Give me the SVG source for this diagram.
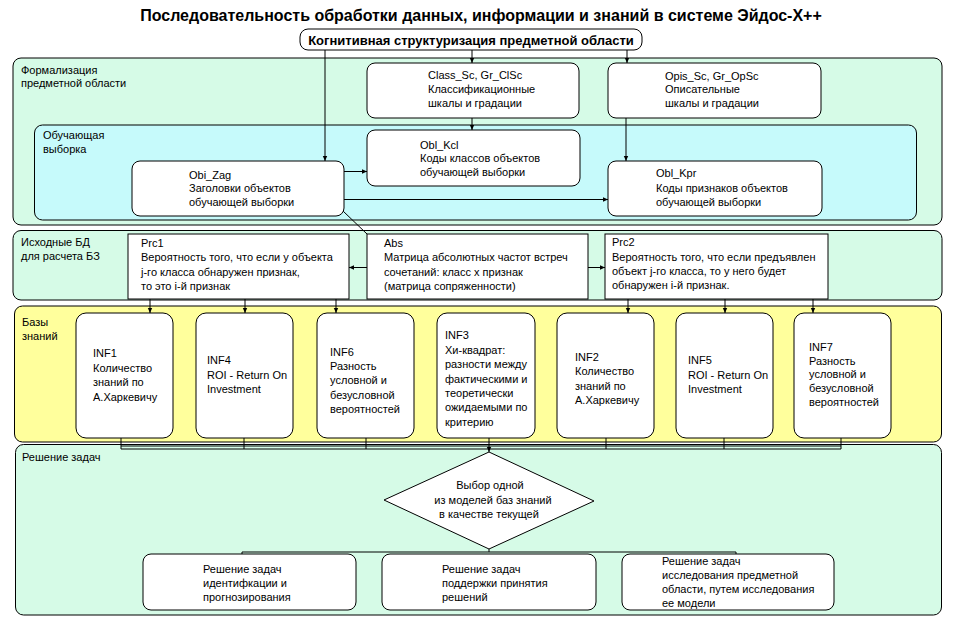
<svg xmlns="http://www.w3.org/2000/svg" width="958" height="619" viewBox="0 0 958 619">
<defs>
<marker id="arr" markerWidth="6" markerHeight="6" refX="5" refY="2.5" orient="auto" markerUnits="userSpaceOnUse">
<path d="M0,0.3 L5,2.5 L0,4.7 Z" fill="#000"/>
</marker>
</defs>
<style>
text{font-family:"Liberation Sans",Arial,sans-serif;font-size:11px;fill:#000}
.title{font-size:16px;font-weight:bold}
.cog{font-size:13px;font-weight:bold}
.sec{stroke:#000;stroke-width:1}
.mint{fill:#d6fbe7}
.cyan{fill:#c6fafb}
.yel{fill:#ffff9c}
.box{fill:#fff;stroke:#000;stroke-width:1}
.ln{fill:none;stroke:#000;stroke-width:1}
.ar{fill:none;stroke:#000;stroke-width:1;marker-end:url(#arr)}
.c{text-anchor:middle}
</style>
<rect width="958" height="619" fill="#fff"/>
<text class="title c" x="481" y="21">Последовательность обработки данных, информации и знаний в системе Эйдос-Х++</text>

<g id="sec-formal">
<rect class="sec mint" x="13" y="58" width="929" height="167" rx="8"/>
<text x="21" y="74">Формализация</text>
<text x="21" y="87">предметной области</text>
</g>
<g id="sec-train">
<rect class="sec cyan" x="34.5" y="125" width="882" height="95" rx="8"/>
<text x="43" y="139">Обучающая</text>
<text x="43" y="153">выборка</text>
</g>
<g id="sec-src">
<rect class="sec mint" x="13" y="230.5" width="929" height="69.5" rx="8"/>
<text x="21" y="246">Исходные БД</text>
<text x="21" y="260">для расчета БЗ</text>
</g>
<g id="sec-kb">
<rect class="sec yel" x="14.5" y="306" width="927" height="136" rx="8"/>
<text x="22" y="326">Базы</text>
<text x="22" y="340">знаний</text>
</g>
<g id="sec-solve">
<rect class="sec mint" x="15.5" y="444.5" width="926" height="170.5" rx="8"/>
<text x="22" y="461">Решение задач</text>
</g>

<g id="connectors">
<path class="ar" d="M325,50 V161"/>
<path class="ar" d="M472,50 V63"/>
<path class="ar" d="M627,50 V63"/>
<path class="ar" d="M472,118 V130"/>
<path class="ar" d="M626,118 V161"/>
<path class="ar" d="M344,171.5 H367"/>
<path class="ar" d="M344,199.5 H608"/>
<path class="ln" d="M343,211 L367,234"/>
<path class="ar" d="M367,267.5 H349"/>
<path class="ar" d="M588,267.5 H605"/>
<path class="ar" d="M150,299 V313"/>
<path class="ar" d="M245,299 V313"/>
<path class="ar" d="M336,299 V313"/>
<path class="ar" d="M628,299 V313"/>
<path class="ar" d="M725,299 V313"/>
<path class="ar" d="M813,299 V313"/>
<path class="ln" d="M121,438 V449 M244,438 V449 M366,438 V449 M489,438 V449 M606,438 V449 M724,438 V449 M841,438 V449"/>
<path class="ln" d="M121,446 H841 M121,449 H841"/>
<path class="ar" d="M489,449 V452"/>
<path class="ln" d="M489,549 V552 M242,554 V552 H736 V554"/>
</g>

<g id="n-cog">
<rect class="box" x="300" y="29" width="342" height="21" rx="8"/>
<text class="cog c" x="471" y="45">Когнитивная структуризация предметной области</text>
</g>
<g id="n-class">
<rect class="box" x="367" y="63" width="212" height="55" rx="8"/>
<text x="428" y="79">Class_Sc, Gr_ClSc</text>
<text x="428" y="93">Классификационные</text>
<text x="428" y="107">шкалы и градации</text>
</g>
<g id="n-opis">
<rect class="box" x="608" y="63" width="213" height="55" rx="8"/>
<text x="665" y="80">Opis_Sc, Gr_OpSc</text>
<text x="665" y="93">Описательные</text>
<text x="665" y="107">шкалы и градации</text>
</g>
<g id="n-kcl">
<rect class="box" x="367" y="130" width="213" height="56" rx="8"/>
<text x="420" y="149">Obl_Kcl</text>
<text x="420" y="162">Коды классов объектов</text>
<text x="420" y="176">обучающей выборки</text>
</g>
<g id="n-zag">
<rect class="box" x="132" y="161" width="212" height="55" rx="8"/>
<text x="189" y="179">Obi_Zag</text>
<text x="189" y="192">Заголовки объектов</text>
<text x="189" y="206">обучающей выборки</text>
</g>
<g id="n-kpr">
<rect class="box" x="608" y="161" width="214" height="55" rx="8"/>
<text x="656" y="177">Obl_Kpr</text>
<text x="656" y="192">Коды признаков объектов</text>
<text x="656" y="206">обучающей выборки</text>
</g>

<g id="n-prc1">
<rect class="box" x="128" y="234" width="221" height="65"/>
<text x="141" y="247">Prc1</text>
<text x="141" y="261">Вероятность того, что если у объекта</text>
<text x="141" y="276">j-го класса обнаружен признак,</text>
<text x="141" y="290">то это i-й признак</text>
</g>
<g id="n-abs">
<rect class="box" x="367" y="234" width="221" height="65"/>
<text x="384" y="247">Abs</text>
<text x="384" y="261">Матрица абсолютных частот встреч</text>
<text x="384" y="276">сочетаний: класс х признак</text>
<text x="384" y="290">(матрица сопряженности)</text>
</g>
<g id="n-prc2">
<rect class="box" x="605" y="234" width="223" height="65"/>
<text x="612" y="246">Prc2</text>
<text x="612" y="261">Вероятность того, что если предъявлен</text>
<text x="612" y="275">объект j-го класса, то у него будет</text>
<text x="612" y="289">обнаружен i-й признак.</text>
</g>

<g id="n-inf1">
<rect class="box" x="76" y="313" width="97" height="125" rx="10"/>
<text x="93" y="357">INF1</text>
<text x="93" y="372">Количество</text>
<text x="93" y="386">знаний по</text>
<text x="93" y="401">А.Харкевичу</text>
</g>
<g id="n-inf4">
<rect class="box" x="196" y="313" width="97" height="125" rx="10"/>
<text x="207" y="364">INF4</text>
<text x="207" y="379">ROI - Return On</text>
<text x="207" y="393">Investment</text>
</g>
<g id="n-inf6">
<rect class="box" x="317" y="313" width="97" height="125" rx="10"/>
<text x="330" y="356">INF6</text>
<text x="330" y="370">Разность</text>
<text x="330" y="384">условной и</text>
<text x="330" y="399">безусловной</text>
<text x="330" y="413">вероятностей</text>
</g>
<g id="n-inf3">
<rect class="box" x="437" y="313" width="98" height="125" rx="10"/>
<text x="445" y="339">INF3</text>
<text x="445" y="354">Хи-квадрат:</text>
<text x="445" y="368">разности между</text>
<text x="445" y="383">фактическими и</text>
<text x="445" y="397">теоретически</text>
<text x="445" y="411">ожидаемыми по</text>
<text x="445" y="426">критерию</text>
</g>
<g id="n-inf2">
<rect class="box" x="557" y="313" width="97" height="125" rx="10"/>
<text x="575" y="361">INF2</text>
<text x="575" y="375">Количество</text>
<text x="575" y="390">знаний по</text>
<text x="575" y="404">А.Харкевичу</text>
</g>
<g id="n-inf5">
<rect class="box" x="676" y="313" width="97" height="125" rx="10"/>
<text x="688" y="364">INF5</text>
<text x="688" y="379">ROI - Return On</text>
<text x="688" y="393">Investment</text>
</g>
<g id="n-inf7">
<rect class="box" x="794" y="313" width="97" height="125" rx="10"/>
<text x="809" y="351">INF7</text>
<text x="809" y="365">Разность</text>
<text x="809" y="378">условной и</text>
<text x="809" y="392">безусловной</text>
<text x="809" y="406">вероятностей</text>
</g>

<g id="n-choice">
<polygon class="box" points="489,452 594,501 489,549 384,500"/>
<text class="c" x="490" y="489">Выбор одной</text>
<text class="c" x="493" y="504">из моделей баз знаний</text>
<text class="c" x="489" y="518">в качестве текущей</text>
</g>
<g id="n-ident">
<rect class="box" x="143" y="554" width="213" height="56" rx="8"/>
<text x="203" y="573">Решение задач</text>
<text x="203" y="587">идентифкации и</text>
<text x="203" y="601">прогнозирования</text>
</g>
<g id="n-decide">
<rect class="box" x="382" y="554" width="214" height="56" rx="8"/>
<text x="442" y="573">Решение задач</text>
<text x="442" y="587">поддержки принятия</text>
<text x="442" y="601">решений</text>
</g>
<g id="n-research">
<rect class="box" x="622" y="554" width="212" height="56" rx="8"/>
<text x="662" y="565">Решение задач</text>
<text x="662" y="579">исследования предметной</text>
<text x="662" y="593">области, путем исследования</text>
<text x="662" y="607">ее модели</text>
</g>
</svg>
